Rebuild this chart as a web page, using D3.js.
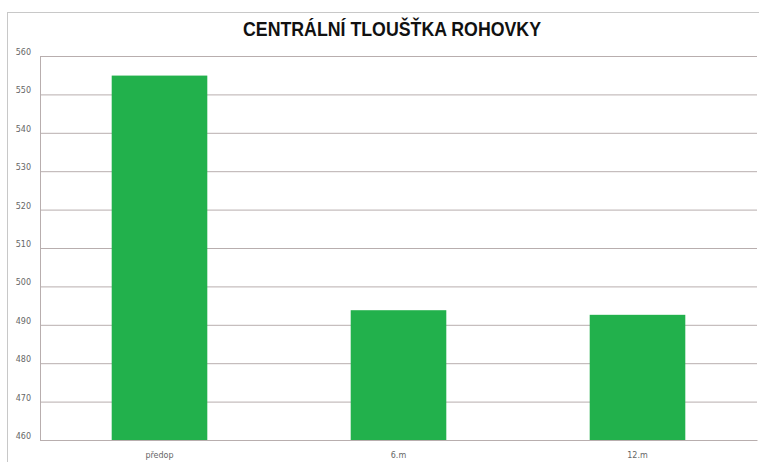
<!DOCTYPE html>
<html>
<head>
<meta charset="utf-8">
<script src="https://cdn.jsdelivr.net/npm/d3@7"></script>
<style>
  body { margin: 0; background: #fff; }
  .tick text { font-family: "DejaVu Sans", sans-serif; font-size: 8px; fill: #666; }
</style>
</head>
<body>
<script>
// data
var categories = ["předop", "6.m", "12.m"];
var values = [554.9, 493.8, 492.6];
var yTicks = [460, 470, 480, 490, 500, 510, 520, 530, 540, 550, 560];

var svg = d3.select("body").append("svg")
    .attr("width", 759)
    .attr("height", 462);

var margin = {left: 40, top: 56, right: 2, bottom: 22};
var width = 759 - margin.left - margin.right,
    height = 462 - margin.top - margin.bottom;

// outer frame
svg.append("rect")
    .attr("x", 7.5).attr("y", 12.5)
    .attr("width", 760).attr("height", 470)
    .attr("fill", "none")
    .attr("stroke", "#c8c8c8");

svg.append("text")
    .attr("x", 392)
    .attr("y", 36)
    .attr("text-anchor", "middle")
    .attr("textLength", 298)
    .attr("lengthAdjust", "spacingAndGlyphs")
    .style("font-family", "'Liberation Sans Narrow', 'Liberation Sans', sans-serif")
    .style("font-weight", "bold")
    .style("font-size", "21px")
    .style("fill", "#111")
    .text("CENTRÁLNÍ TLOUŠŤKA ROHOVKY");

var g = svg.append("g").attr("transform", "translate(" + margin.left + "," + margin.top + ")");

var x = d3.scaleBand()
    .domain(categories)
    .range([0, width])
    .paddingInner(0.6)
    .paddingOuter(0.3);

var y = d3.scaleLinear()
    .domain([460, 560])
    .range([height, 0]);

// grid + y axis
var yAxis = g.append("g")
    .call(d3.axisLeft(y).tickValues(yTicks).tickSize(-width).tickPadding(9));
yAxis.select(".domain").attr("stroke", "#b8aeae");
yAxis.selectAll(".tick line").attr("stroke", "#b8aeae");
yAxis.selectAll(".tick text").attr("dy", "-0.2em");

g.selectAll(".bar")
    .data(values)
    .enter().append("rect")
    .attr("class", "bar")
    .attr("x", function (d, i) { return x(categories[i]); })
    .attr("y", function (d) { return y(d); })
    .attr("width", x.bandwidth())
    .attr("height", function (d) { return height - y(d); })
    .attr("fill", "#22b14c");

var xAxis = g.append("g")
    .attr("transform", "translate(0," + height + ")")
    .call(d3.axisBottom(x).tickSize(0).tickPadding(12));
xAxis.select(".domain").attr("stroke", "#b8aeae");
</script>
</body>
</html>
